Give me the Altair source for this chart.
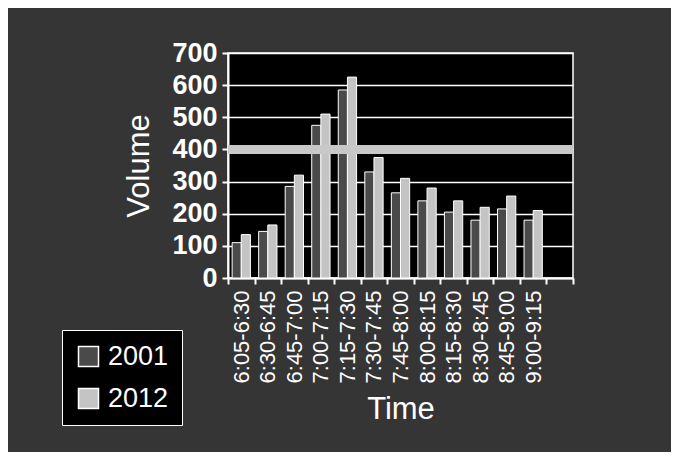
import altair as alt
import pandas as pd

times = ["6:05-6:30", "6:30-6:45", "6:45-7:00", "7:00-7:15", "7:15-7:30", "7:30-7:45",
         "7:45-8:00", "8:00-8:15", "8:15-8:30", "8:30-8:45", "8:45-9:00", "9:00-9:15"]
vol_2001 = [110, 145, 285, 475, 585, 330, 265, 240, 205, 180, 215, 180]
vol_2012 = [135, 165, 320, 510, 625, 375, 310, 280, 240, 220, 255, 210]
years = ["2001", "2012"]
y_ticks = [0, 100, 200, 300, 400, 500, 600, 700]
band_value = 400

rows = []
for t, a, b in zip(times, vol_2001, vol_2012):
    rows.append({"time": t, "year": "2001", "volume": a})
    rows.append({"time": t, "year": "2012", "volume": b})
df = pd.DataFrame(rows)
x_domain = times + [" "]

FONT = "Liberation Sans"

y_axis = alt.Axis(title="Volume", values=y_ticks, labelFontSize=27,
                  labelFontWeight="bold", labelPadding=5, tickSize=6,
                  labelOverlap=False, labelFlush=False,
                  titleFontSize=31, titlePadding=16, grid=True,
                  gridColor="white", gridWidth=1.5, gridOpacity=1)
y_scale = alt.Scale(domain=[0, 700], nice=False)

bars = alt.Chart(df).mark_bar(stroke="white", strokeWidth=1).encode(
    x=alt.X("time:N", sort=times,
            scale=alt.Scale(domain=x_domain, paddingInner=0, paddingOuter=0),
            axis=alt.Axis(title="Time", labelAngle=-90, tickBand="extent",
                          labelFontSize=22, labelPadding=6, tickSize=6,
                          labelOverlap=False,
                          titleFontSize=31, titlePadding=12, grid=False)),
    xOffset=alt.XOffset("year:N", scale=alt.Scale(domain=years, paddingOuter=0.45, paddingInner=0)),
    y=alt.Y("volume:Q", scale=y_scale, axis=y_axis),
    color=alt.Color("year:N", scale=alt.Scale(domain=years, range=["#4a4a4a", "#c4c4c4"]),
                    legend=alt.Legend(title=None, orient="none", legendX=-166, legendY=277,
                                      symbolType="square", symbolSize=400,
                                      symbolStrokeColor="white", symbolStrokeWidth=1.5,
                                      labelFontSize=27, labelColor="white", labelFont=FONT,
                                      rowPadding=14, padding=13, labelOffset=6,
                                      strokeColor="white", fillColor="black")),
)

band = alt.Chart(df).mark_rule(color="#c8c8c8", strokeWidth=9).encode(
    y=alt.YDatum(band_value, scale=y_scale, axis=y_axis)
)

chart = alt.layer(bars, band).properties(
    width=345, height=225,
    autosize=alt.AutoSizeParams(type="none"),
    padding={"left": 220, "top": 45, "right": 98, "bottom": 174},
    background="#353535",
).configure_view(
    fill="black", stroke="white", strokeWidth=1.5
).configure_axis(
    domainColor="white", domainWidth=2, tickColor="white", tickWidth=2,
    labelColor="white", titleColor="white", labelFont=FONT, titleFont=FONT,
    titleFontWeight="normal"
)

chart.save("out.html", embed_options={"renderer": "svg", "actions": False})
